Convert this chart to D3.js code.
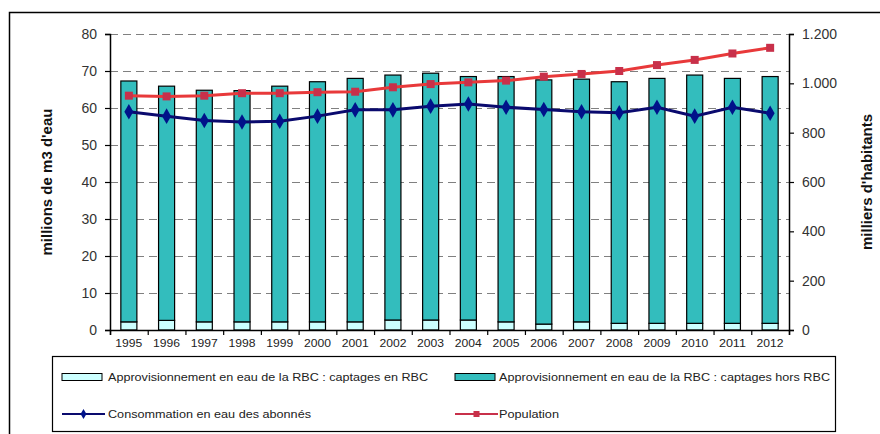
<!DOCTYPE html>
<html><head><meta charset="utf-8">
<script src="https://cdn.jsdelivr.net/npm/d3@7"></script>
<style>body{margin:0;background:#fff}svg{display:block}</style>
</head><body>
<svg id="c" width="880" height="434"></svg>
<script>
const years = [1995,1996,1997,1998,1999,2000,2001,2002,2003,2004,2005,2006,2007,2008,2009,2010,2011,2012];
const captagesEn = [2.2,2.6,2.2,2.2,2.2,2.2,2.2,2.7,2.7,2.7,2.2,1.6,2.2,1.8,1.8,1.8,1.8,1.8];
const totalAppro = [67.3,65.9,64.8,64.7,65.9,67.1,68.0,68.9,69.4,68.5,68.5,67.6,67.8,67.1,68.0,68.9,68.0,68.5];
const consommation = [59.0,57.8,56.6,56.2,56.4,57.8,59.5,59.5,60.5,61.1,60.2,59.6,59.0,58.7,60.2,57.8,60.2,58.6];
const population = [950,947,950,960,960,964,966,984,997,1004,1011,1027,1038,1050,1074,1095,1121,1144];
const leftTicks = [0,10,20,30,40,50,60,70,80];
const rightTicks = [0,200,400,600,800,1000,1200];
const rightTickLabels = ["0","200","400","600","800","1.000","1.200"];
const legendLabels = [
  "Approvisionnement en eau de la RBC : captages en RBC",
  "Approvisionnement en eau de la RBC : captages hors RBC",
  "Consommation en eau des abonnés",
  "Population"
];
const captagesHors = totalAppro.map((t,i)=>+(t-captagesEn[i]).toFixed(2));

const svg = d3.select("#c");
const L=110, R=789, T=34, B=330;
const x = d3.scaleBand().domain(years).range([L,R]).paddingInner(0.575).paddingOuter(0.2875);
const yL = d3.scaleLinear().domain([0,80]).range([B,T]);
const yR = d3.scaleLinear().domain([0,1200]).range([B,T]);

// outer frame
svg.append("rect").attr("x",9.5).attr("y",12.5).attr("width",900).attr("height",500)
  .attr("fill","none").attr("stroke","#000").attr("stroke-width",1.5);

// grid
svg.append("g").selectAll("line").data(leftTicks.filter(d=>d>0)).join("line")
  .attr("x1",L).attr("x2",R).attr("y1",d=>Math.round(yL(d))+0.5).attr("y2",d=>Math.round(yL(d))+0.5)
  .attr("stroke","#808080").attr("stroke-width",1).attr("stroke-dasharray","8,5");

// bars
const stack = d3.stack().keys(["en","hors"])(years.map((y,i)=>({year:y,en:captagesEn[i],hors:captagesHors[i]})));
const fills = ["#ccffff","#33bdbd"];
svg.append("g").selectAll("g").data(stack).join("g").attr("fill",(d,i)=>fills[i])
  .selectAll("rect").data(d=>d).join("rect")
  .attr("x",d=>x(d.data.year)).attr("width",x.bandwidth())
  .attr("y",d=>yL(d[1])).attr("height",d=>yL(d[0])-yL(d[1]))
  .attr("stroke","#000").attr("stroke-width",1.2);

// axes
const axL = svg.append("g").attr("transform",`translate(${L},0)`)
  .call(d3.axisLeft(yL).tickValues(leftTicks).tickSize(5).tickPadding(8));
const axR = svg.append("g").attr("transform",`translate(${R},0)`)
  .call(d3.axisRight(yR).tickValues(rightTicks).tickSize(5).tickPadding(8).tickFormat((d,i)=>rightTickLabels[i]));
const xb = d3.scaleLinear().domain([0,years.length]).range([L,R]);
const axX = svg.append("g").attr("transform",`translate(0,${B})`)
  .call(d3.axisBottom(xb).tickValues(d3.range(years.length+1)).tickSize(5).tickFormat(""));
svg.append("g").selectAll("text").data(years).join("text")
  .attr("x",d=>x(d)+x.bandwidth()/2).attr("y",B+17).attr("text-anchor","middle")
  .attr("font-family","Arial, Liberation Sans, sans-serif").attr("font-size",11).attr("fill","#222")
  .attr("textLength",27).attr("lengthAdjust","spacingAndGlyphs").text(d=>d);
[axL,axR,axX].forEach(a=>{
  a.select(".domain").attr("stroke","#000").attr("stroke-width",1.5);
  a.selectAll(".tick line").attr("stroke","#000").attr("stroke-width",1.2);
  a.selectAll("text").attr("font-family","Arial, Liberation Sans, sans-serif").attr("font-size",14).attr("fill","#333");
});

// lines
const lineL = d3.line().x((d,i)=>x(years[i])+x.bandwidth()/2).y(d=>yL(d));
const lineR = d3.line().x((d,i)=>x(years[i])+x.bandwidth()/2).y(d=>yR(d));
svg.append("path").datum(population).attr("d",lineR).attr("fill","none").attr("stroke","#e8393a").attr("stroke-width",3);
svg.append("g").selectAll("rect").data(population).join("rect")
  .attr("x",(d,i)=>x(years[i])+x.bandwidth()/2-4).attr("y",d=>yR(d)-4).attr("width",8).attr("height",8)
  .attr("fill","#c8304a");
svg.append("path").datum(consommation).attr("d",lineL).attr("fill","none").attr("stroke","#0a0a6e").attr("stroke-width",3);
const diamond = d3.symbol().type(d3.symbolDiamond).size(70);
svg.append("g").selectAll("path").data(consommation).join("path")
  .attr("transform",(d,i)=>`translate(${x(years[i])+x.bandwidth()/2},${yL(d)})`)
  .attr("d",diamond).attr("fill","#00128a");

// axis titles
svg.append("text").attr("transform","translate(52,182) rotate(-90)").attr("text-anchor","middle")
  .attr("font-family","Arial, Liberation Sans, sans-serif").attr("font-weight","bold").attr("font-size",15).attr("fill","#111")
  .text("millions de m3 d'eau");
svg.append("text").attr("transform","translate(872,182) rotate(-90)").attr("text-anchor","middle")
  .attr("font-family","Arial, Liberation Sans, sans-serif").attr("font-weight","bold").attr("font-size",15).attr("fill","#111")
  .text("milliers d'habitants");

// legend
const lg = svg.append("g");
lg.append("rect").attr("x",52.5).attr("y",356.5).attr("width",783).attr("height",75).attr("fill","#fff").attr("stroke","#000").attr("stroke-width",1.2);
const lgItems = [
  {x:62, y:377, type:"bar", fill:fills[0], tx:108, tl:320},
  {x:455, y:377, type:"bar", fill:fills[1], tx:499, tl:331},
  {x:62, y:414, type:"line", stroke:"#0a0a6e", tx:108, tl:203},
  {x:455, y:414, type:"line", stroke:"#c8304a", tx:499, tl:60}
];
lgItems.forEach((it,i)=>{
  if(it.type==="bar"){
    lg.append("rect").attr("x",it.x).attr("y",it.y-3.5).attr("width",40).attr("height",7).attr("fill",it.fill).attr("stroke","#000").attr("stroke-width",1);
  } else {
    lg.append("line").attr("x1",it.x).attr("x2",it.x+43).attr("y1",it.y).attr("y2",it.y).attr("stroke",it.stroke).attr("stroke-width",2);
    if(i===2) lg.append("path").attr("transform",`translate(${it.x+21.5},${it.y})`).attr("d",d3.symbol().type(d3.symbolDiamond).size(30)).attr("fill","#00128a");
    else lg.append("rect").attr("x",it.x+18.5).attr("y",it.y-3).attr("width",6).attr("height",6).attr("fill","#c8304a");
  }
  lg.append("text").attr("x",it.tx).attr("y",it.y+4).attr("font-family","Arial, Liberation Sans, sans-serif").attr("font-size",11).attr("fill","#222")
    .attr("textLength",it.tl).attr("lengthAdjust","spacingAndGlyphs").text(legendLabels[i]);
});
</script>
</body></html>
